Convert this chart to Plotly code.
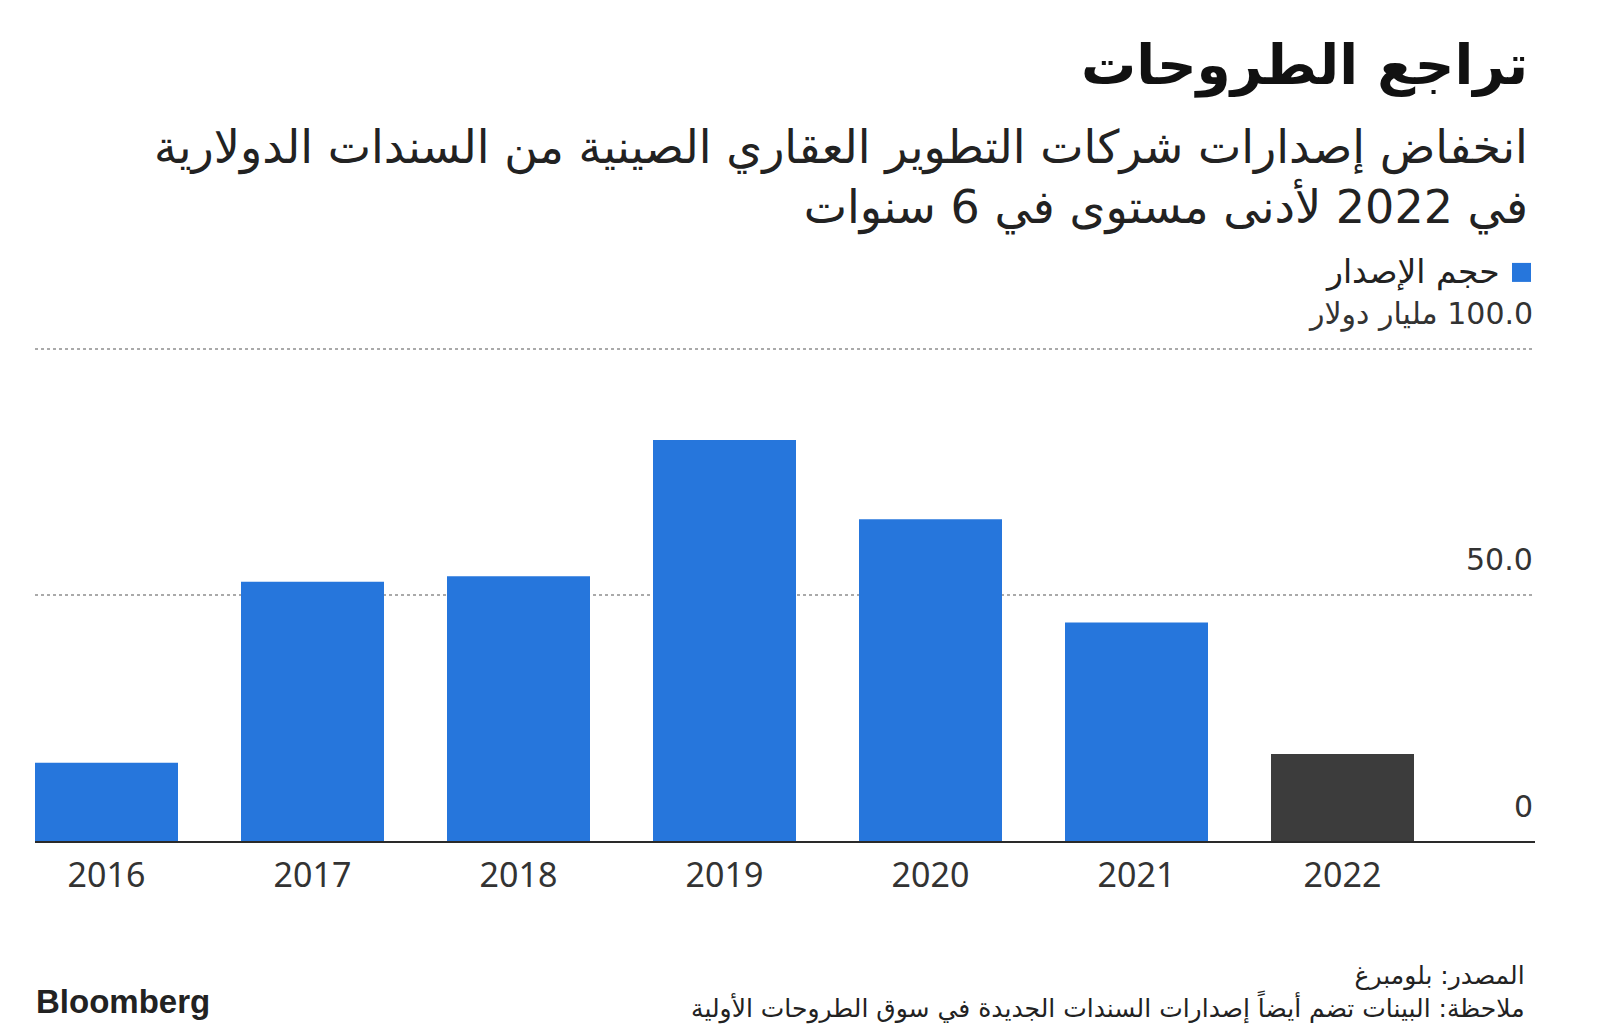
import plotly.graph_objects as go

# ---- data ----
years = [2016, 2017, 2018, 2019, 2020, 2021, 2022]
issuance = [15.9, 52.7, 53.8, 81.5, 65.4, 44.4, 17.7]   # billion USD
year_labels = [str(y) for y in years]
y_ticks = [0, 50, 100]
y_tick_labels = ["0", "50.0", "\u200F100.0 مليار دولار"]
highlight_year = 2022

title_text = "تراجع الطروحات"
subtitle_text = "انخفاض إصدارات شركات التطوير العقاري الصينية من السندات الدولارية<br>في 2022 لأدنى مستوى في 6 سنوات"
legend_text = "حجم الإصدار"
source_text = "المصدر: بلومبرغ"
note_text = "ملاحظة: البينات تضم أيضاً إصدارات السندات الجديدة في سوق الطروحات الأولية"

# ---- style / layout ----
W, H = 1600, 1034
Y_MAX = 101
L, R, B = 35, 1535, 841
T100 = 349
T = B - (B - T100) * Y_MAX / 100
BLUE = "#2676DC"
DARK = "#3C3C3C"
ARFONT = "DejaVu Sans"
NUMFONT = "Noto Sans, DejaVu Sans"

def py(p):
    return (B - p) / (B - T)

def px(p):
    return (p - L) / (R - L)

colors = [DARK if y == highlight_year else BLUE for y in years]
bar_w = 143 / 206

fig = go.Figure()
fig.add_trace(go.Bar(x=years, y=issuance, width=bar_w, marker=dict(color=colors, line=dict(width=0)),
                     showlegend=False, hoverinfo="x+y"))

fig.update_layout(
    width=W, height=H, autosize=False,
    margin=dict(l=L, r=W - R, t=T, b=H - B, pad=0),
    paper_bgcolor="white", plot_bgcolor="white",
    showlegend=False,
    xaxis=dict(range=[years[0] - bar_w / 2, years[0] - bar_w / 2 + (R - L) / 206],
               tickvals=years, ticktext=year_labels, showgrid=False, zeroline=False,
               showline=True, linecolor="#2a2a2a", linewidth=2,
               ticks="", ticklabelstandoff=3,
               tickfont=dict(family=NUMFONT, size=34, color="#333333")),
    yaxis=dict(range=[0, Y_MAX], tickvals=y_ticks, showticklabels=False, showgrid=True,
               gridcolor="#AAAAAA", gridwidth=1.5, griddash="dot", zeroline=False, showline=False),
)

annotations = []
for v, lab in zip(y_ticks, y_tick_labels):
    annotations.append(dict(xref="paper", yref="y", x=1, y=v, xanchor="right", yanchor="middle",
                            yshift=35, text=lab, showarrow=False,
                            font=dict(family=ARFONT, size=30, color="#333333")))

annotations += [
    dict(xref="paper", yref="paper", x=px(1530), y=py(66), xanchor="right", yanchor="middle",
         text="<b>" + title_text + "</b>", showarrow=False,
         font=dict(family=ARFONT, size=55, color="#111111")),
    dict(xref="paper", yref="paper", x=px(1530), y=py(178), xanchor="right", yanchor="middle",
         text=subtitle_text, showarrow=False, align="right",
         font=dict(family=ARFONT, size=46, color="#222222")),
    dict(xref="paper", yref="paper", x=px(1502), y=py(272), xanchor="right", yanchor="middle",
         text=legend_text, showarrow=False,
         font=dict(family=ARFONT, size=33, color="#222222")),
    dict(xref="paper", yref="paper", x=px(1527), y=py(992), xanchor="right", yanchor="middle",
         text=source_text + "<br>" + note_text, showarrow=False, align="right",
         font=dict(family=ARFONT, size=25, color="#222222")),
    dict(xref="paper", yref="paper", x=px(34), y=py(1001), xanchor="left", yanchor="middle",
         text="<b>Bloomberg</b>", showarrow=False,
         font=dict(family="Liberation Sans", size=33, color="#222222")),
]
fig.update_layout(annotations=annotations)

fig.add_shape(type="rect", xref="paper", yref="paper",
              x0=px(1512), x1=px(1531), y0=py(282), y1=py(263),
              fillcolor=BLUE, line=dict(width=0))

fig.write_html("out.html", config={"displayModeBar": False},
               post_script="document.body.style.margin='0';")
